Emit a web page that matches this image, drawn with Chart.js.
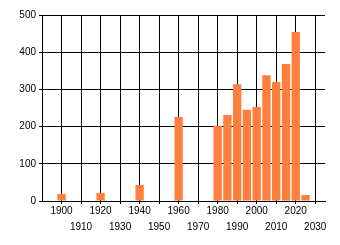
<!DOCTYPE html>
<html><head><meta charset="utf-8">
<script src="https://cdn.jsdelivr.net/npm/chart.js@4"></script>
<style>html,body{margin:0;padding:0;background:#fff;}#wrap{width:340px;height:245px;position:relative;}</style>
</head><body><div id="wrap"><canvas id="c"></canvas></div>
<script>
const years = [1900, 1920, 1940, 1960, 1980, 1985, 1990, 1995, 2000, 2005, 2010, 2015, 2020, 2025];
const values = [19, 22, 43, 226, 202, 231, 314, 245, 253, 338, 320, 368, 454, 16];
const xTicks = [1900, 1910, 1920, 1930, 1940, 1950, 1960, 1970, 1980, 1990, 2000, 2010, 2020, 2030];
const yTicks = [0, 100, 200, 300, 400, 500];

const font = {family: '"Liberation Sans", Arial, sans-serif', size: 10};
new Chart(document.getElementById('c'), {
  type: 'bar',
  data: {datasets: [{
    data: years.map((y, i) => ({x: y, y: values[i]})),
    backgroundColor: 'rgb(255,127,63)',
    borderWidth: 0,
    categoryPercentage: 0.9,
    barPercentage: 0.95
  }]},
  options: {
    responsive: true, maintainAspectRatio: false, animation: false,
    plugins: {legend: {display: false}, tooltip: {enabled: false}},
    layout: {padding: {left: 0, top: 15, right: 15, bottom: 0}},
    scales: {
      x: {
        type: 'linear', min: 1890, max: 2035, offset: false,
        afterBuildTicks: s => { s.ticks = xTicks.map(v => ({value: v})); },
        afterFit: s => { s.height = 44; },
        grid: {color: '#000', lineWidth: 1, tickLength: 3, offset: false, drawTicks: true},
        border: {color: '#000', width: 1},
        ticks: {
          autoSkip: false, maxRotation: 0, color: '#000', padding: -1,
          font: Object.assign({lineHeight: '16px'}, font),
          callback: (v, i) => (i % 2 === 0 ? String(v) : ['', String(v)])
        }
      },
      y: {
        min: 0, max: 500,
        afterBuildTicks: s => { s.ticks = yTicks.map(v => ({value: v})); },
        afterFit: s => { s.width = 42; },
        grid: {color: '#000', lineWidth: 1, tickLength: 3},
        border: {color: '#000', width: 1},
        ticks: {color: '#000', padding: 3, font: font}
      }
    }
  }
});
</script></body></html>
